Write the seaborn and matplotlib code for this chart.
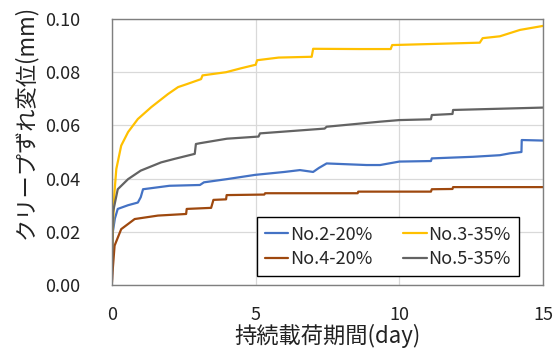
import matplotlib
matplotlib.use('Agg')
import matplotlib.pyplot as plt
import seaborn as sns
import pandas as pd

sns.set_theme(style='white')
plt.rcParams['font.family'] = ['Noto Sans CJK JP', 'DejaVu Sans']

series_names = ['No.2-20%', 'No.3-35%', 'No.4-20%', 'No.5-35%']
colors = ['#4472C4', '#FFC000', '#9E480E', '#636363']

# No.2-20%
x_no2 = [0, 0.03, 0.1, 0.2, 0.56, 0.9, 1.0, 1.08, 2.0, 3.06, 3.2, 4.0, 4.98, 6.0, 6.54,
         7.0, 7.2, 7.47, 8.86, 9.33, 10.0, 11.1, 11.13, 12.57, 13.5, 13.85, 14.25, 14.26, 15.0]
y_no2 = [0.002, 0.020, 0.025, 0.0286, 0.030, 0.031, 0.033, 0.036, 0.0373, 0.0376, 0.0386, 0.0398, 0.0414, 0.0425, 0.0432,
         0.0425, 0.0440, 0.0457, 0.0451, 0.0451, 0.0464, 0.0466, 0.0476, 0.0482, 0.0488, 0.0495, 0.0500, 0.0545, 0.0543]

# No.3-35%
x_no3 = [0, 0.01, 0.035, 0.08, 0.15, 0.32, 0.56, 0.9, 1.37, 1.95, 2.3, 2.6, 3.1, 3.15, 3.97,
         4.5, 5.0, 5.05, 5.8, 6.95, 7.0, 8.6, 9.7, 9.75, 12.8, 12.9, 13.5, 14.2, 15.0]
y_no3 = [0.005, 0.015, 0.0223, 0.034, 0.0436, 0.0524, 0.0575, 0.0624, 0.0669, 0.0718, 0.0744, 0.0755, 0.0774, 0.0788, 0.0800,
         0.0815, 0.0828, 0.0845, 0.0855, 0.0858, 0.0888, 0.0887, 0.0887, 0.0902, 0.0911, 0.0928, 0.0935, 0.0959, 0.0974]

# No.4-20%
x_no4 = [0, 0.02, 0.09, 0.32, 0.79, 1.6, 2.58, 2.6, 3.45, 3.53, 3.97, 3.99, 5.3, 5.33,
         8.55, 8.57, 11.1, 11.13, 11.85, 11.87, 15.0]
y_no4 = [0.001, 0.005, 0.0148, 0.021, 0.0248, 0.0261, 0.0267, 0.0286, 0.029, 0.032, 0.0322, 0.0338, 0.0340, 0.0345,
         0.0345, 0.0351, 0.0351, 0.0360, 0.0361, 0.0368, 0.0368]

# No.5-35%
x_no5 = [0, 0.01, 0.035, 0.2, 0.56, 1.0, 1.71, 2.17, 2.88, 2.92, 3.06, 4.0, 5.1, 5.15, 7.4,
         7.47, 9.33, 10.0, 11.1, 11.13, 11.85, 11.87, 15.0]
y_no5 = [0.004, 0.015, 0.0274, 0.036, 0.0398, 0.043, 0.0461, 0.0474, 0.0493, 0.053, 0.0533, 0.0550, 0.0558, 0.0570, 0.0588,
         0.0595, 0.0614, 0.0620, 0.0623, 0.0639, 0.0643, 0.0658, 0.0667]

x_ticks = [0, 5, 10, 15]
y_ticks = [0.00, 0.02, 0.04, 0.06, 0.08, 0.10]
x_label = '持続載荷期間(day)'
y_label = 'クリープずれ変位(mm)'

frames = []
for name, xs, ys in zip(series_names, [x_no2, x_no3, x_no4, x_no5], [y_no2, y_no3, y_no4, y_no5]):
    frames.append(pd.DataFrame({'day': xs, 'disp': ys, 'series': name}))
df = pd.concat(frames, ignore_index=True)

fig = plt.figure(figsize=(5.56, 3.49), dpi=100)
ax = fig.add_axes([112 / 556, 1 - 285 / 349, 431 / 556, 266 / 349])

sns.lineplot(data=df, x='day', y='disp', hue='series', hue_order=series_names,
             palette=colors, estimator=None, sort=False, linewidth=1.6, ax=ax)

ax.set_xlim(0, 15)
ax.set_ylim(0, 0.10)
ax.set_xticks(x_ticks)
ax.set_xticklabels([str(t) for t in x_ticks])
ax.set_yticks(y_ticks)
ax.set_yticklabels([f'{t:.2f}' for t in y_ticks])
ax.tick_params(axis='both', length=0, labelsize=13, colors='#222222')
ax.tick_params(axis='y', pad=23)
ax.tick_params(axis='x', pad=15)
ax.grid(True, color='#D9D9D9', linewidth=0.9)
ax.set_axisbelow(True)
for s in ax.spines.values():
    s.set_color('#7F7F7F')
    s.set_linewidth(1.0)

ax.set_xlabel(x_label, fontsize=16, va='center', color='#222222')
ax.set_ylabel(y_label, fontsize=16, va='center', color='#222222')
ax.xaxis.set_label_coords(0.5, (285 - 336) / 266)
ax.yaxis.set_label_coords((25 - 112) / 431, 0.613)

handles, labels = ax.get_legend_handles_labels()
lookup = dict(zip(labels, handles))
order = ['No.2-20%', 'No.4-20%', 'No.3-35%', 'No.5-35%']
leg = ax.legend([lookup[k] for k in order], order, ncol=2, loc='lower right',
                bbox_to_anchor=(0.944, 0.034), borderaxespad=0, frameon=True,
                fancybox=False, edgecolor='black', fontsize=13, handlelength=1.3,
                handletextpad=0.1, columnspacing=1.7, borderpad=0.45, labelspacing=0.35)
leg.get_frame().set_linewidth(1.0)
leg.get_frame().set_alpha(1)

fig.savefig('out.png', dpi=100)
